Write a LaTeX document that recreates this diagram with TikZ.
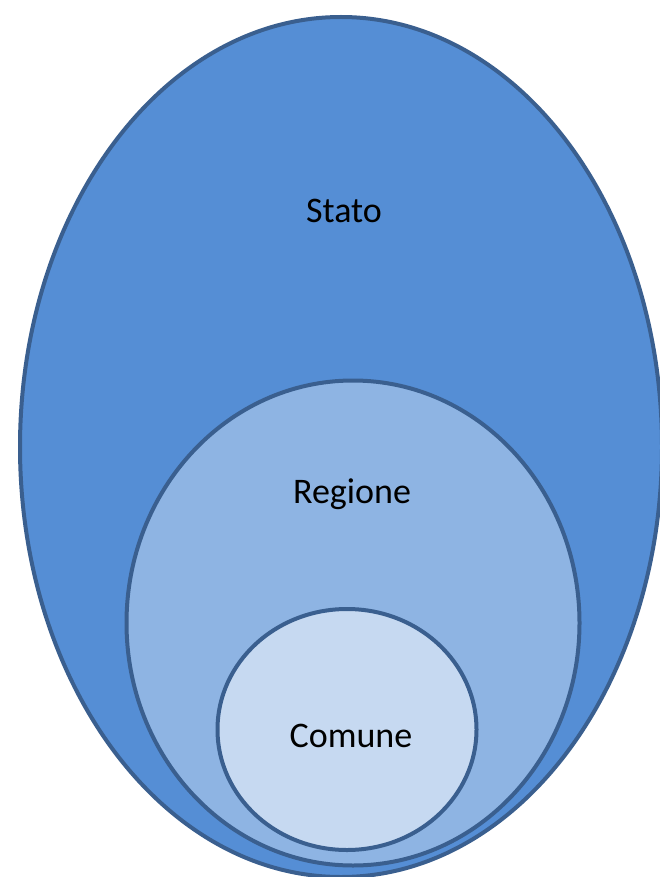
\documentclass[tikz,border=0pt]{standalone}
\usepackage{fontspec}
\setmainfont{Carlito}
\usetikzlibrary{shapes.geometric}
\definecolor{stroke}{HTML}{3A5F8F}
\definecolor{fillA}{HTML}{558ED5}
\definecolor{fillB}{HTML}{8EB4E3}
\definecolor{fillC}{HTML}{C6D9F1}
\tikzset{
  setoval/.style={ellipse, draw=stroke, line width=4pt, inner sep=0pt},
  lbl/.style={font=\fontsize{36}{40}\selectfont, text=black, inner sep=0pt}
}
\begin{document}
\begin{tikzpicture}[x=1pt,y=1pt]
\useasboundingbox (0,0) rectangle (659,-877);
\fill[white] (0,0) rectangle (659,-877);
\node[setoval, fill=fillA, minimum width=642pt, minimum height=860pt] (stato) at (341,-447) {};
\node[setoval, fill=fillB, minimum width=453pt, minimum height=485pt] (regione) at (353,-623) {};
\node[setoval, fill=fillC, minimum width=259pt, minimum height=241pt] (comune) at (347,-729.5) {};
\node[lbl] (tstato) at (344,-211) {Stato};
\node[lbl] (tregione) at (352,-494) {Regione};
\node[lbl] (tcomune) at (351,-736) {Comune};
\end{tikzpicture}
\end{document}
